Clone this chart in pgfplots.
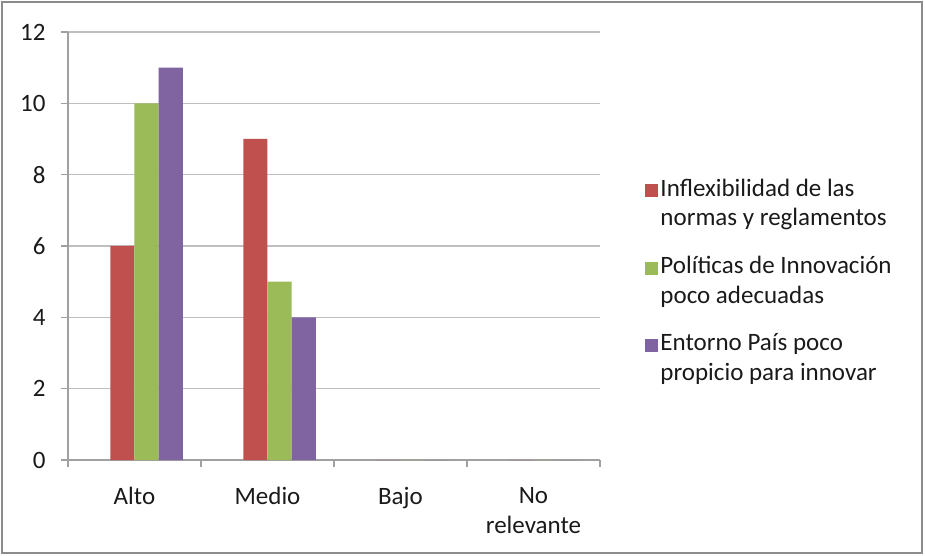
\documentclass[border=0pt]{standalone}
\usepackage{fontspec}
\setmainfont{Carlito}
\usepackage{pgfplots}
\pgfplotsset{compat=1.18}
\definecolor{serred}{HTML}{C0504D}
\definecolor{sergreen}{HTML}{9BBB59}
\definecolor{serpurple}{HTML}{8064A2}
\definecolor{gridgray}{HTML}{BFBFBF}
\definecolor{axisgray}{HTML}{A0A0A0}
\definecolor{framegray}{HTML}{8C8C8C}
\definecolor{txt}{HTML}{1A1A1A}
\newcommand{\chartfont}{\fontsize{25bp}{29.5bp}\selectfont}

\begin{document}
\begin{tikzpicture}
\begin{axis}[
  scale only axis, width=532bp, height=428bp,
  xmin=-0.5, xmax=3.5, ymin=0, ymax=12,
  axis x line*=bottom, axis y line*=left,
  axis line style={axisgray, line width=1.3bp},
  ymajorgrids, major grid style={gridgray, line width=1.3bp},
  ytick={0,2,...,12},
  xtick={-0.5,0.5,1.5,2.5,3.5},
  x tick label as interval,
  xticklabels={Alto,Medio,Bajo,{No\\relevante}},
  tick align=outside, major tick length=7bp,
  tick style={axisgray, line width=1.3bp},
  /pgf/number format/assume math mode=true,
  tick label style={font=\chartfont, text=txt},
  x tick label style={align=center, anchor=north, yshift=-17bp},
  y tick label style={xshift=-12bp},
  ybar, bar width=0.1818,
  legend cell align=left,
  legend style={draw=none, fill=none, font=\chartfont, text=txt,
    nodes={align=left},
    at={(rel axis cs:1.0795,0.666)}, anchor=north west,
    row sep=25bp},
  legend image code/.code={\fill[#1] (-5bp,6bp) rectangle (8bp,19bp);},
]
\addplot[fill=serred, draw=none, bar shift=-0.0909]
  coordinates {(0,6) (1,9) (2,0) (3,0)};
\addplot[fill=sergreen, draw=none, bar shift=0.0909]
  coordinates {(0,10) (1,5) (2,0) (3,0)};
\addplot[fill=serpurple, draw=none, bar shift=0.2727]
  coordinates {(0,11) (1,4) (2,0) (3,0)};
\legend{Inflexibilidad de las\\normas y reglamentos,
        Políticas de Innovación\\poco adecuadas,
        Entorno País poco\\propicio para innovar}
\end{axis}
\pgfresetboundingbox
\path[use as bounding box] (-68bp,-96bp) rectangle (857bp,460bp);
\draw[framegray, line width=1.5bp] (-66bp,-93bp) rectangle (854bp,458bp);
\end{tikzpicture}
\end{document}
